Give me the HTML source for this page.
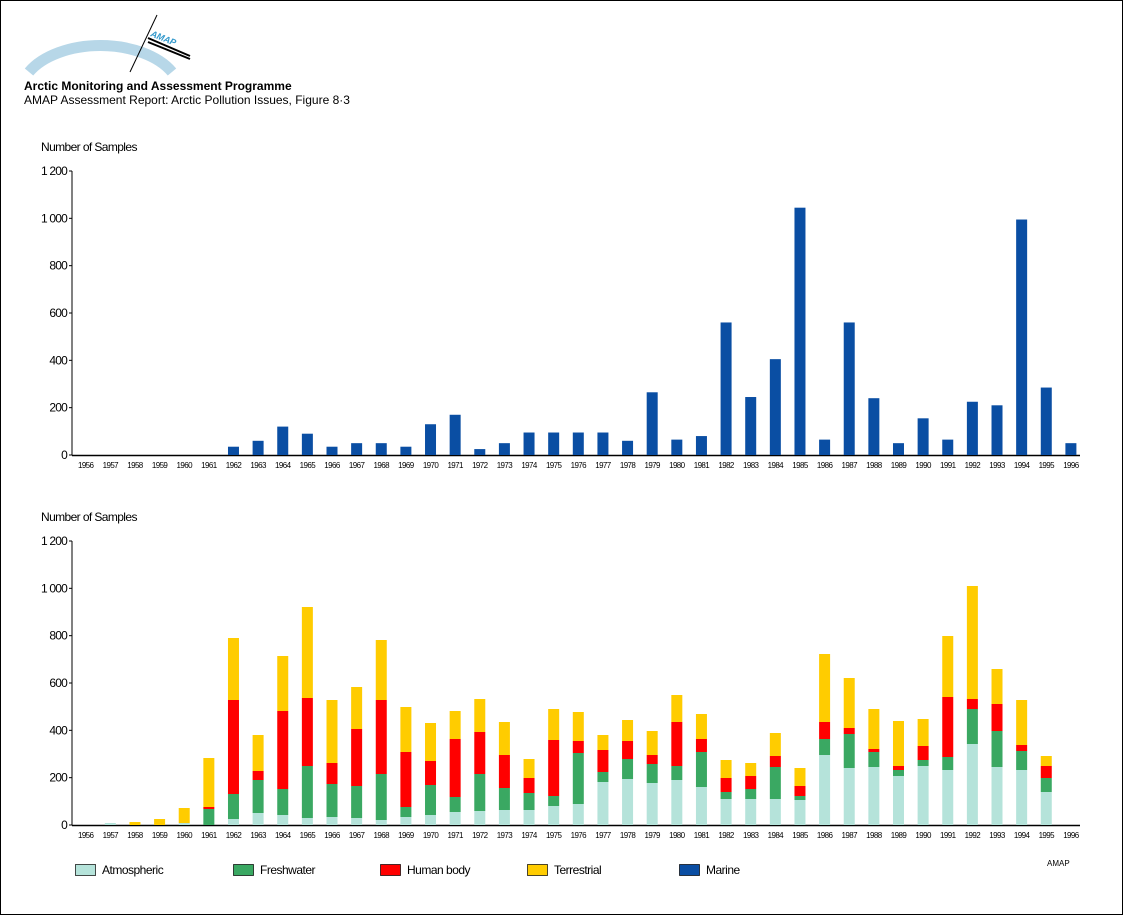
<!DOCTYPE html>
<html><head><meta charset="utf-8"><style>
html,body{margin:0;padding:0;background:#fff}
svg{display:block}
text{font-family:"Liberation Sans",sans-serif;fill:#000}
</style></head><body>
<svg id="s" width="1123" height="915" xmlns="http://www.w3.org/2000/svg">
<rect x="0.5" y="0.5" width="1122" height="914" fill="#fff" stroke="#000"/>
<path d="M29,72 A80,48 0 0 1 172,72" fill="none" stroke="#b7d7e8" stroke-width="11"/>
<line x1="130" y1="72" x2="157" y2="15" stroke="#000" stroke-width="1"/>
<text x="150" y="36" font-size="9" font-style="italic" font-weight="bold" style="fill:#3399cc" transform="rotate(22 150 36)">AMAP</text>
<line x1="148" y1="38" x2="190" y2="56" stroke="#000" stroke-width="2"/>
<line x1="148" y1="42" x2="190" y2="59" stroke="#000" stroke-width="2"/>
<text x="24" y="90" font-size="12" font-weight="bold">Arctic Monitoring and Assessment Programme</text>
<text x="24" y="104" font-size="12">AMAP Assessment Report: Arctic Pollution Issues, Figure 8·3</text>
<g id="g"></g>
</svg>
<script>
(function(){
var g=document.getElementById('g'),h='';
var k=284/1200, x0=85.7, dx=24.63;
function axis(base,title){
 h+='<text x="41" y="'+(base-304)+'" font-size="12" letter-spacing="-0.6">'+title+'</text>';
 h+='<line x1="72" y1="'+(base-284)+'" x2="72" y2="'+base+'" stroke="#000"/>';
 h+='<line x1="72" y1="'+(base+0.5)+'" x2="1080" y2="'+(base+0.5)+'" stroke="#000" stroke-width="1.5"/>';
 for(var v=0;v<=1200;v+=200){var y=base-v*k;
  h+='<line x1="69" y1="'+y+'" x2="72" y2="'+y+'" stroke="#000"/>';
  var l=v>=1000?String(v).replace(/^(\d)/,'$1 '):String(v);
  h+='<text x="67" y="'+(y+4)+'" font-size="12" text-anchor="end" letter-spacing="-0.8">'+l+'</text>';}
 for(var i=0;i<41;i++)h+='<text x="'+(x0+i*dx)+'" y="'+(base+13)+'" font-size="8" text-anchor="middle" letter-spacing="-0.6">'+(1956+i)+'</text>';
}
axis(455,'Number of Samples');axis(825,'Number of Samples');
var mar=[0,0,0,0,0,0,35,60,120,90,35,50,50,35,130,170,25,50,95,95,95,95,60,265,65,80,560,245,405,1045,65,560,240,50,155,65,225,210,995,285,50];
mar.forEach(function(v,i){if(v>0)h+='<rect x="'+(x0+i*dx-5.5)+'" y="'+(455-v*k)+'" width="11" height="'+(v*k)+'" fill="#0a4ea3"/>';});
var B={1957:[823,823,823,823],1958:[825,825,825,822],1959:[825,825,825,819],1960:[823,823,823,808],
1961:[825,809,807,758],1962:[819,794,700,638],1963:[813,780,771,735],1964:[815,789,711,656],1965:[818,766,698,607],
1966:[817,784,763,700],1967:[818,786,729,687],1968:[820,774,700,640],1969:[817,807,752,707],1970:[815,785,761,723],
1971:[812,797,739,711],1972:[811,774,732,699],1973:[810,788,755,722],1974:[810,793,778,759],1975:[806,796,740,709],
1976:[804,753,741,712],1977:[782,772,750,735],1978:[779,759,741,720],1979:[783,764,755,731],1980:[780,766,722,695],
1981:[787,752,739,714],1982:[799,792,778,760],1983:[799,789,776,763],1984:[799,767,756,733],1985:[800,796,786,768],
1986:[755,739,722,654],1987:[768,734,728,678],1988:[767,752,749,709],1989:[776,770,766,721],1990:[766,760,746,719],
1991:[770,757,697,636],1992:[744,709,699,586],1993:[767,731,704,669],1994:[770,751,745,700],1995:[792,778,766,756]};
var C=['#b5e3da','#3aa862','#ff0000','#ffcc00'];
for(var yr in B){var i=yr-1956,a=B[yr],prev=825,x=x0+i*dx-5.5;
 for(var j=0;j<4;j++){if(a[j]<prev)h+='<rect x="'+x+'" y="'+a[j]+'" width="11" height="'+(prev-a[j])+'" fill="'+C[j]+'"/>';prev=Math.min(prev,a[j]);}}
var L=[[75,'Atmospheric','#b5e3da'],[233,'Freshwater','#3aa862'],[380,'Human body','#ff0000'],[527,'Terrestrial','#ffcc00'],[679,'Marine','#0a4ea3']];
L.forEach(function(l){h+='<rect x="'+(l[0]+0.5)+'" y="864.5" width="20" height="11" fill="'+l[2]+'" stroke="#000" stroke-width="0.7"/>';
 h+='<text x="'+(l[0]+27)+'" y="874" font-size="12" letter-spacing="-0.5">'+l[1]+'</text>';});
h+='<text x="1047" y="866" font-size="8">AMAP</text>';
g.innerHTML=h;
})();
</script>
</body></html>
